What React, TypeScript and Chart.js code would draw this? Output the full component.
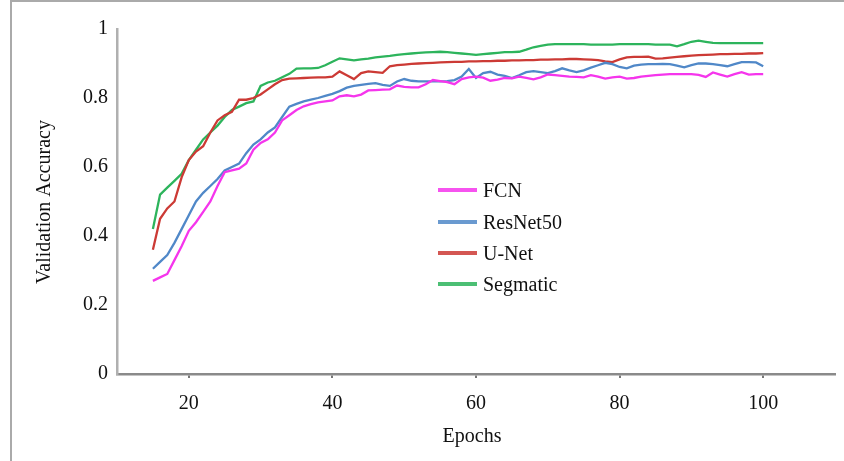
import { useEffect, useRef } from "react";
import { Chart, registerables } from "chart.js";
Chart.register(...registerables);

const epochs = [15,16,17,18,19,20,21,22,23,24,25,26,27,28,29,30,31,32,33,34,35,36,37,38,39,40,41,42,43,44,45,46,47,48,49,50,51,52,53,54,55,56,57,58,59,60,61,62,63,64,65,66,67,68,69,70,71,72,73,74,75,76,77,78,79,80,81,82,83,84,85,86,87,88,89,90,91,92,93,94,95,96,97,98,99,100];

const fcn = [0.27,0.28,0.29,0.33,0.37,0.415,0.44,0.47,0.5,0.545,0.585,0.59,0.595,0.61,0.65,0.67,0.68,0.7,0.735,0.75,0.765,0.776,0.782,0.787,0.79,0.793,0.805,0.808,0.805,0.81,0.822,0.823,0.824,0.825,0.836,0.832,0.831,0.831,0.84,0.852,0.849,0.846,0.84,0.855,0.86,0.862,0.859,0.85,0.853,0.858,0.857,0.862,0.858,0.854,0.86,0.868,0.866,0.864,0.862,0.861,0.86,0.866,0.862,0.856,0.86,0.862,0.856,0.858,0.862,0.864,0.866,0.868,0.869,0.869,0.869,0.869,0.867,0.861,0.874,0.868,0.862,0.869,0.875,0.868,0.869,0.869];

const resnet50 = [0.305,0.325,0.345,0.38,0.42,0.46,0.5,0.525,0.545,0.565,0.59,0.6,0.61,0.64,0.665,0.68,0.7,0.715,0.745,0.775,0.783,0.79,0.795,0.8,0.806,0.812,0.82,0.83,0.835,0.838,0.841,0.843,0.838,0.835,0.848,0.855,0.85,0.848,0.848,0.848,0.848,0.849,0.852,0.862,0.884,0.858,0.872,0.876,0.868,0.864,0.858,0.866,0.875,0.878,0.875,0.872,0.878,0.886,0.88,0.875,0.88,0.888,0.895,0.902,0.898,0.89,0.886,0.894,0.897,0.898,0.898,0.899,0.898,0.894,0.889,0.895,0.9,0.9,0.898,0.895,0.892,0.898,0.904,0.904,0.903,0.892];

const unet = [0.36,0.45,0.48,0.5,0.57,0.62,0.645,0.66,0.7,0.735,0.75,0.76,0.795,0.795,0.8,0.81,0.825,0.84,0.852,0.856,0.857,0.858,0.859,0.86,0.86,0.862,0.877,0.866,0.855,0.872,0.877,0.875,0.873,0.892,0.895,0.897,0.899,0.9,0.901,0.902,0.903,0.904,0.905,0.905,0.906,0.906,0.907,0.907,0.908,0.908,0.909,0.909,0.91,0.91,0.911,0.911,0.912,0.912,0.913,0.913,0.912,0.911,0.91,0.906,0.904,0.912,0.918,0.919,0.919,0.92,0.914,0.915,0.917,0.919,0.921,0.923,0.924,0.925,0.926,0.927,0.927,0.928,0.928,0.929,0.929,0.93];

const segmatic = [0.42,0.52,0.54,0.56,0.58,0.62,0.65,0.68,0.7,0.72,0.745,0.765,0.775,0.785,0.79,0.835,0.845,0.85,0.86,0.87,0.885,0.886,0.886,0.887,0.895,0.905,0.915,0.912,0.909,0.912,0.914,0.918,0.92,0.922,0.925,0.927,0.929,0.931,0.932,0.933,0.934,0.933,0.931,0.929,0.927,0.925,0.927,0.929,0.931,0.933,0.933,0.934,0.94,0.947,0.951,0.955,0.956,0.956,0.956,0.956,0.956,0.955,0.955,0.955,0.955,0.956,0.956,0.956,0.956,0.956,0.955,0.955,0.955,0.95,0.956,0.963,0.966,0.963,0.96,0.959,0.959,0.959,0.959,0.959,0.959,0.959];

const seriesNames = ["FCN", "ResNet50", "U-Net", "Segmatic"];
const seriesValues = [fcn, resnet50, unet, segmatic];
const seriesColors = ["#f535ec", "#5088c8", "#cc3a35", "#2db45c"];
const xTicks = [20, 40, 60, 80, 100];
const yTicks = [0, 0.2, 0.4, 0.6, 0.8, 1];
const xTitle = "Epochs";
const yTitle = "Validation Accuracy";

const FONT = '"Liberation Serif", "Times New Roman", serif';

const overlay = {
  id: "overlay",
  afterDraw(chart: any) {
    const ctx = chart.ctx as CanvasRenderingContext2D;
    ctx.save();
    ctx.fillStyle = "#111";
    ctx.font = `20px ${FONT}`;
    ctx.textAlign = "center";
    ctx.textBaseline = "middle";
    ctx.save();
    ctx.translate(45, 202);
    ctx.rotate(-Math.PI / 2);
    ctx.fillText(yTitle, 0, 0);
    ctx.restore();
    ctx.fillText(xTitle, 472, 437);
    const ly = [190, 222, 253, 284];
    ctx.textAlign = "left";
    for (let i = 0; i < seriesNames.length; i++) {
      ctx.strokeStyle = seriesColors[i];
      ctx.globalAlpha = 0.85;
      ctx.lineWidth = 4;
      ctx.beginPath();
      ctx.moveTo(438, ly[i]);
      ctx.lineTo(477, ly[i]);
      ctx.stroke();
      ctx.globalAlpha = 1;
      ctx.fillText(seriesNames[i], 483, ly[i] + 2);
    }
    ctx.restore();
  },
};

export default function App() {
  const ref = useRef<HTMLCanvasElement | null>(null);
  useEffect(() => {
    if (!ref.current) return;
    const chart = new Chart(ref.current, {
      type: "line",
      data: {
        datasets: seriesNames.map((name, i) => ({
          label: name,
          data: epochs.map((e, j) => ({ x: e, y: seriesValues[i][j] })),
          borderColor: seriesColors[i],
          backgroundColor: seriesColors[i],
          borderWidth: 2.3,
          pointRadius: 0,
          tension: 0,
        })),
      },
      options: {
        animation: false,
        responsive: false,
        layout: { padding: { left: 0, right: 9, top: 29, bottom: 0 } },
        plugins: { legend: { display: false }, tooltip: { enabled: false } },
        scales: {
          x: {
            type: "linear",
            min: 10,
            max: 110,
            afterBuildTicks: (s: any) => {
              s.ticks = xTicks.map((v) => ({ value: v }));
            },
            afterFit: (s: any) => {
              s.height = 87;
            },
            grid: { drawOnChartArea: false, drawTicks: true, tickLength: 4, color: "#777", lineWidth: 2 },
            border: { color: "#8a8a8a", width: 2.5 },
            ticks: { font: { family: FONT, size: 20 }, color: "#111", padding: 14, maxRotation: 0 },
          },
          y: {
            min: 0,
            max: 1,
            afterBuildTicks: (s: any) => {
              s.ticks = yTicks.map((v) => ({ value: v }));
            },
            afterFit: (s: any) => {
              s.width = 117;
            },
            grid: { drawOnChartArea: false, drawTicks: false },
            border: { color: "#b0b0b0", width: 2.5 },
            ticks: {
              font: { family: FONT, size: 20 },
              color: "#111",
              padding: 9,
              callback: (v: any) => String(Number(Number(v).toFixed(1))),
            },
          },
        },
      },
      plugins: [overlay],
    });
    return () => chart.destroy();
  }, []);
  return (
    <div style={{ position: "fixed", left: 0, top: 0, width: 844, height: 461, background: "#fff", overflow: "hidden" }}>
      <div
        style={{
          position: "absolute",
          left: 10,
          top: 0,
          width: 900,
          height: 520,
          borderLeft: "2px solid #aaa",
          borderTop: "2px solid #aaa",
        }}
      />
      <canvas ref={ref} width={844} height={461} style={{ position: "absolute", left: 0, top: 0, width: 844, height: 461 }} />
    </div>
  );
}
